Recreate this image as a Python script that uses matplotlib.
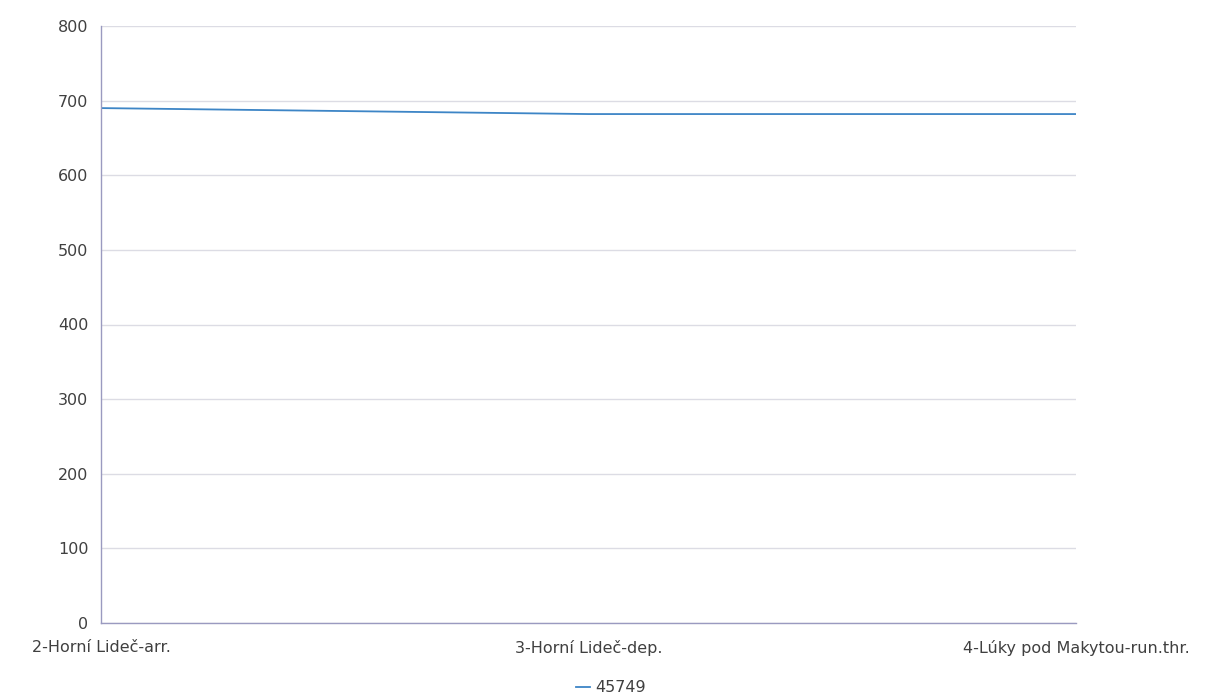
import matplotlib
matplotlib.use("Agg")
import matplotlib.pyplot as plt

plt.rcParams["font.family"] = ["DejaVu Sans"]

stations = ["2-Horní Lideč-arr.", "3-Horní Lideč-dep.", "4-Lúky pod Makytou-run.thr."]
values = [690, 682, 682]
series_name = "45749"

fig = plt.figure(figsize=(12.21, 6.98), dpi=100)
ax = fig.add_axes([101/1221, 75/698, 975/1221, 597/698])

x = list(range(len(stations)))
line, = ax.plot(x, values, color="#3d85c6", linewidth=1.3, label=series_name)

ax.set_xlim(0, len(stations) - 1)
ax.set_ylim(0, 800)
ax.set_yticks(range(0, 801, 100))
ax.set_xticks(x)
ax.set_xticklabels(stations)

ax.grid(axis="y", color="#dcdce4", linewidth=1)
ax.set_axisbelow(True)
for side in ["top", "right"]:
    ax.spines[side].set_visible(False)
for side in ["left", "bottom"]:
    ax.spines[side].set_color("#9a9ac0")
    ax.spines[side].set_linewidth(1)

ax.tick_params(axis="both", length=0, labelsize=11.5, colors="#404040")
ax.tick_params(axis="y", pad=9)
ax.tick_params(axis="x", pad=12)
for lbl in ax.get_yticklabels():
    lbl.set_verticalalignment("center_baseline")

fig.legend(handles=[line], loc="center", bbox_to_anchor=(611/1221, 1 - 688/698),
           frameon=False, fontsize=11.5, handlelength=0.9, handletextpad=0.3,
           labelcolor="#404040")

fig.savefig("out.png", dpi=100)
